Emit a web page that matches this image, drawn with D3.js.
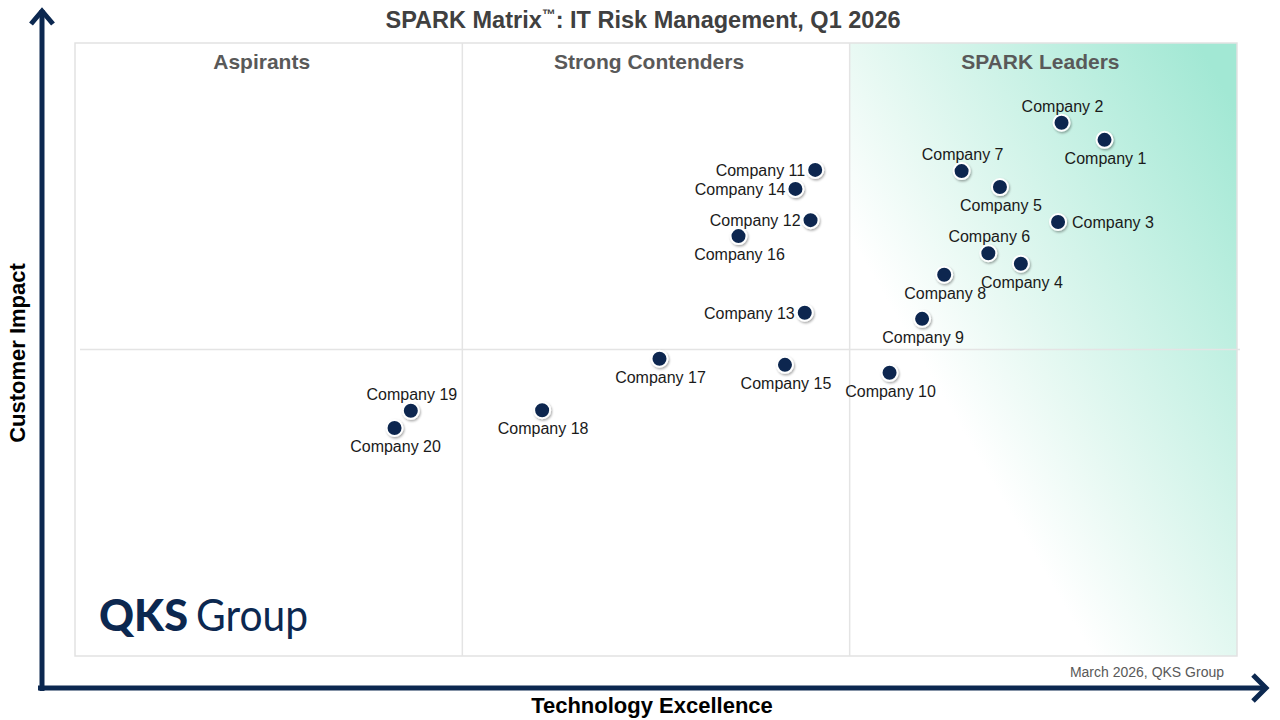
<!DOCTYPE html>
<html>
<head>
<meta charset="utf-8">
<script src="https://cdn.jsdelivr.net/npm/d3@7"></script>
<style>
  body { margin: 0; background: #fff; }
  svg { display: block; font-family: "Liberation Sans", Arial, sans-serif; }
</style>
</head>
<body>
<div class="matrix"></div>
<script>
// values (0-100 on both axes)
const companies = ["Company 1", "Company 2", "Company 3", "Company 4", "Company 5",
  "Company 6", "Company 7", "Company 8", "Company 9", "Company 10",
  "Company 11", "Company 12", "Company 13", "Company 14", "Company 15",
  "Company 16", "Company 17", "Company 18", "Company 19", "Company 20"];
const techExcellence = [88.6, 84.9, 84.6, 81.4, 79.6, 78.6, 76.3, 74.8, 72.9, 70.1,
  63.7, 63.3, 62.8, 62.0, 61.1, 57.1, 50.3, 40.2, 28.9, 27.5];
const customerImpact = [84.2, 87.0, 70.8, 64.0, 76.5, 65.7, 79.1, 62.2, 55.0, 46.2,
  79.3, 71.1, 56.0, 76.2, 47.5, 68.5, 48.5, 40.1, 40.0, 37.2];
const quadrants = ["Aspirants", "Strong Contenders", "SPARK Leaders"];

// where each label sits relative to its dot
const labelSide = ["b", "t", "r", "b", "b", "t", "t", "b", "b", "b",
  "l", "l", "l", "l", "b", "b", "b", "b", "t", "b"];

const width = 1280, height = 720;
const plotLeft = 75, plotRight = 1237, plotTop = 43, plotBottom = 656;
const navy = "#0c2850";

const svg = d3.select(".matrix").append("svg")
  .attr("width", width)
  .attr("height", height);

const x = d3.scaleLinear().domain([0, 100]).range([plotLeft, plotRight]);
const y = d3.scaleLinear().domain([0, 100]).range([plotBottom, plotTop]);

const defs = svg.append("defs");
const grad = defs.append("linearGradient")
  .attr("id", "lead")
  .attr("gradientUnits", "userSpaceOnUse")
  .attr("x1", 985).attr("y1", 470)
  .attr("x2", 1330).attr("y2", 270);
grad.append("stop").attr("offset", 0).attr("stop-color", "#ffffff");
grad.append("stop").attr("offset", 0.25).attr("stop-color", "#e8f9f3");
grad.append("stop").attr("offset", 1).attr("stop-color", "#a2e8d4");

const shadow = defs.append("filter").attr("id", "sh")
  .attr("x", "-50%").attr("y", "-50%").attr("width", "200%").attr("height", "200%");
shadow.append("feDropShadow")
  .attr("dx", 1).attr("dy", 1.5).attr("stdDeviation", 1.2)
  .attr("flood-color", "#000").attr("flood-opacity", 0.35);

// title
const title = svg.append("text")
  .attr("x", 643).attr("y", 28)
  .attr("text-anchor", "middle")
  .attr("font-size", "23.5px").attr("font-weight", "bold")
  .attr("fill", "#404040");
title.append("tspan").text("SPARK Matrix");
title.append("tspan").text("™").attr("font-size", "14px").attr("dy", -9);
title.append("tspan").text(": IT Risk Management, Q1 2026").attr("dy", 9);

// leaders background
svg.append("rect")
  .attr("x", x(100 * 2 / 3)).attr("y", plotTop)
  .attr("width", plotRight - x(100 * 2 / 3)).attr("height", plotBottom - plotTop)
  .attr("fill", "url(#lead)");

// plot frame
svg.append("rect")
  .attr("x", plotLeft).attr("y", plotTop)
  .attr("width", plotRight - plotLeft).attr("height", plotBottom - plotTop)
  .attr("fill", "none")
  .attr("stroke", "#e2e2e2").attr("stroke-width", 1.5);

[100 / 3, 200 / 3].forEach(v => {
  svg.append("line")
    .attr("x1", x(v)).attr("x2", x(v))
    .attr("y1", plotTop).attr("y2", plotBottom)
    .attr("stroke", "#e4e4e4").attr("stroke-width", 1.5);
});
svg.append("line")
  .attr("x1", plotLeft + 5).attr("x2", plotRight + 3)
  .attr("y1", y(50)).attr("y2", y(50))
  .attr("stroke", "#e4e4e4").attr("stroke-width", 1.5);

svg.selectAll(".quad")
  .data(quadrants)
  .enter()
  .append("text")
  .attr("class", "quad")
  .text(d => d)
  .attr("x", (d, i) => x(i * 100 / 3 + 50 / 3) - (i == 2 ? 3 : 7))
  .attr("y", 69)
  .attr("text-anchor", "middle")
  .attr("font-size", "21px").attr("font-weight", "bold")
  .attr("fill", "#595959");

// axis arrows
const arrows = svg.append("g")
  .attr("stroke", navy).attr("stroke-width", 5)
  .attr("fill", "none").attr("stroke-linecap", "butt");
arrows.append("line").attr("x1", 42).attr("x2", 42).attr("y1", 691).attr("y2", 10);
arrows.append("polyline").attr("points", "31,24 42,11 53,24");
arrows.append("line").attr("x1", 38).attr("x2", 1265).attr("y1", 688).attr("y2", 688);
arrows.append("polyline").attr("points", "1253,675 1266,688 1253,701");

svg.append("text")
  .text("Technology Excellence")
  .attr("x", 652).attr("y", 713)
  .attr("text-anchor", "middle")
  .attr("font-size", "22px").attr("font-weight", "bold")
  .attr("fill", "#000");

svg.append("text")
  .text("Customer Impact")
  .attr("transform", "translate(25,353) rotate(-90)")
  .attr("text-anchor", "middle")
  .attr("font-size", "22px").attr("font-weight", "bold")
  .attr("fill", "#000");

svg.append("text")
  .text("March 2026, QKS Group")
  .attr("x", 1224).attr("y", 677)
  .attr("text-anchor", "end")
  .attr("font-size", "14px")
  .attr("fill", "#595959");

// logo
svg.append("text")
  .text("QKS")
  .attr("x", 99).attr("y", 631)
  .attr("font-family", "Lato, 'Open Sans', sans-serif")
  .attr("font-size", "44px").attr("font-weight", 900)
  .attr("textLength", 89).attr("lengthAdjust", "spacingAndGlyphs")
  .attr("fill", navy);
svg.append("text")
  .text("Group")
  .attr("x", 196).attr("y", 631)
  .attr("font-family", "Lato, 'Open Sans', sans-serif")
  .attr("font-size", "44px").attr("font-weight", 400)
  .attr("textLength", 112).attr("lengthAdjust", "spacingAndGlyphs")
  .attr("fill", navy);

// dots
const pts = companies.map((c, i) => ({
  name: c, tx: techExcellence[i], ci: customerImpact[i], side: labelSide[i]
}));

svg.selectAll("circle.co")
  .data(pts)
  .enter()
  .append("circle")
  .attr("class", "co")
  .attr("cx", d => x(d.tx))
  .attr("cy", d => y(d.ci))
  .attr("r", 8)
  .attr("fill", navy)
  .attr("stroke", "#fff").attr("stroke-width", 2)
  .attr("filter", "url(#sh)");

svg.selectAll("text.lbl")
  .data(pts)
  .enter()
  .append("text")
  .attr("class", "lbl")
  .text(d => d.name)
  .attr("x", function(d) {
    if (d.side == "r") return x(d.tx) + 14;
    if (d.side == "l") return x(d.tx) - 10;
    return x(d.tx) + 1;
  })
  .attr("y", function(d) {
    if (d.side == "t") return y(d.ci) - 11;
    if (d.side == "b") return y(d.ci) + 24;
    return y(d.ci) + 6;
  })
  .attr("text-anchor", function(d) {
    if (d.side == "r") return "start";
    if (d.side == "l") return "end";
    return "middle";
  })
  .attr("font-size", "16px")
  .attr("fill", "#1a1a1a");
</script>
</body>
</html>
